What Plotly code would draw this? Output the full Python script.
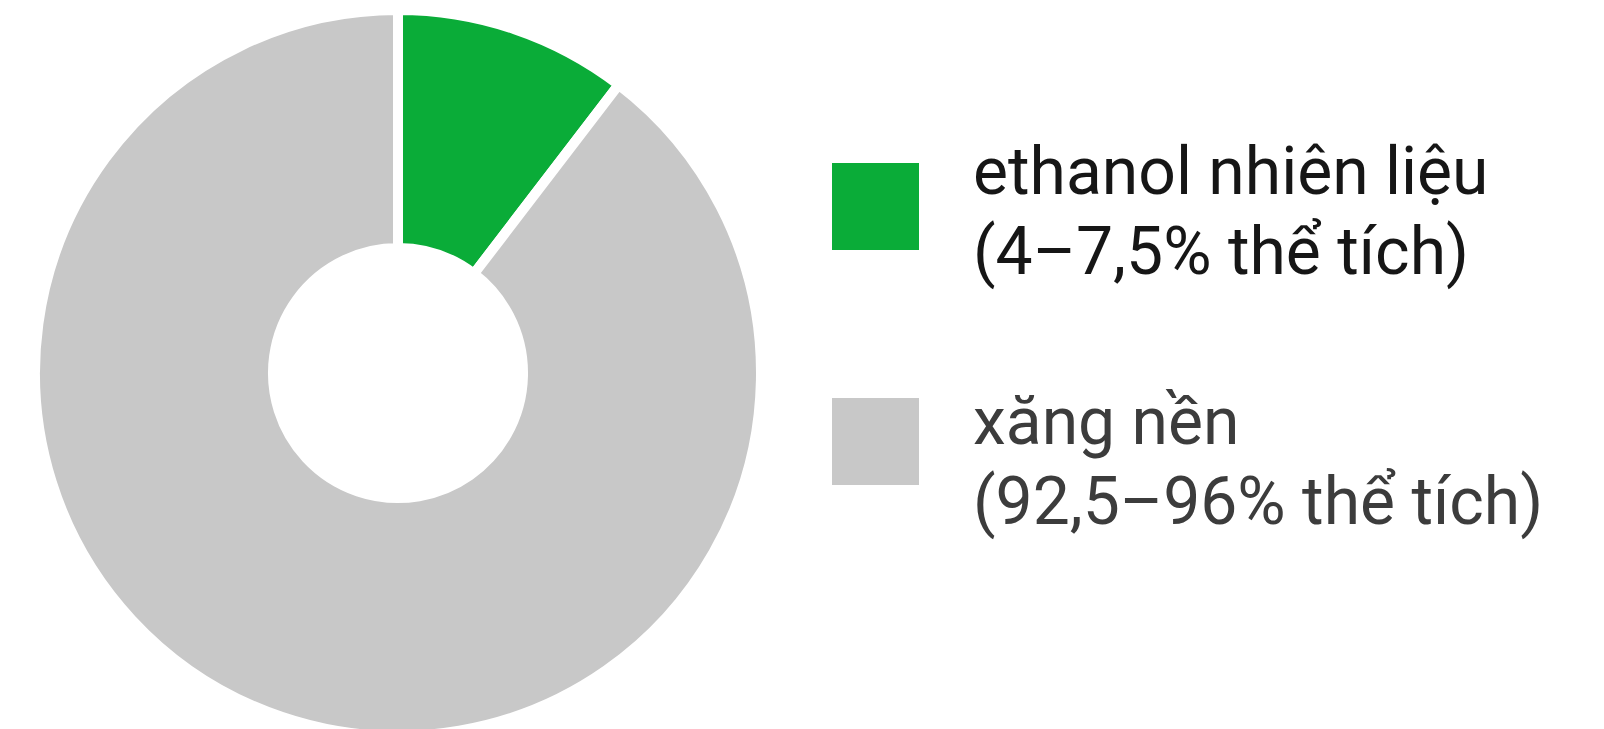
import plotly.graph_objects as go

# Data
labels = ["ethanol nhiên liệu", "xăng nền"]
ranges = ["(4–7,5% thể tích)", "(92,5–96% thể tích)"]
shares = [10.4, 89.6]
colors = ["#0aac38", "#c8c8c8"]
text_colors = ["#161616", "#3c3c3c"]

W, H = 1604, 729
OFF = 8  # page body margin offset

cx, cy, R = 398 - OFF, 373 - OFF, 363

fig = go.Figure()
fig.add_trace(go.Pie(
    labels=labels,
    values=shares,
    sort=False,
    direction="clockwise",
    rotation=0,
    hole=0.3444,
    marker=dict(colors=colors, line=dict(color="white", width=10)),
    textinfo="none",
    hoverinfo="label+percent",
    showlegend=False,
    domain=dict(x=[(cx - R) / W, (cx + R) / W],
                y=[(H - cy - R) / H, (H - cy + R) / H]),
))

# Custom legend: swatches + two-line labels
sw_x0, sw_x1 = 832 - OFF, 919 - OFF
sw_tops = [163 - OFF, 398 - OFF]
sw_size = 87
text_x = 963
line1_mid = [163.5, 413.5]
line_pitch = 80

shapes = []
annotations = []
for i in range(len(labels)):
    y0 = sw_tops[i]
    shapes.append(dict(
        type="rect", xref="paper", yref="paper",
        x0=sw_x0 / W, x1=sw_x1 / W,
        y0=1 - (y0 + sw_size) / H, y1=1 - y0 / H,
        fillcolor=colors[i], line=dict(width=0),
    ))
    for j, txt in enumerate([labels[i], ranges[i]]):
        annotations.append(dict(
            text=txt, xref="paper", yref="paper",
            x=text_x / W, y=1 - (line1_mid[i] + j * line_pitch) / H,
            xanchor="left", yanchor="middle", showarrow=False,
            font=dict(family="Roboto", size=66, color=text_colors[i]),
        ))

fig.update_layout(
    width=W, height=H,
    margin=dict(l=0, r=0, t=0, b=0),
    paper_bgcolor="white", plot_bgcolor="white",
    shapes=shapes, annotations=annotations,
)

fig.write_html("out.html")
